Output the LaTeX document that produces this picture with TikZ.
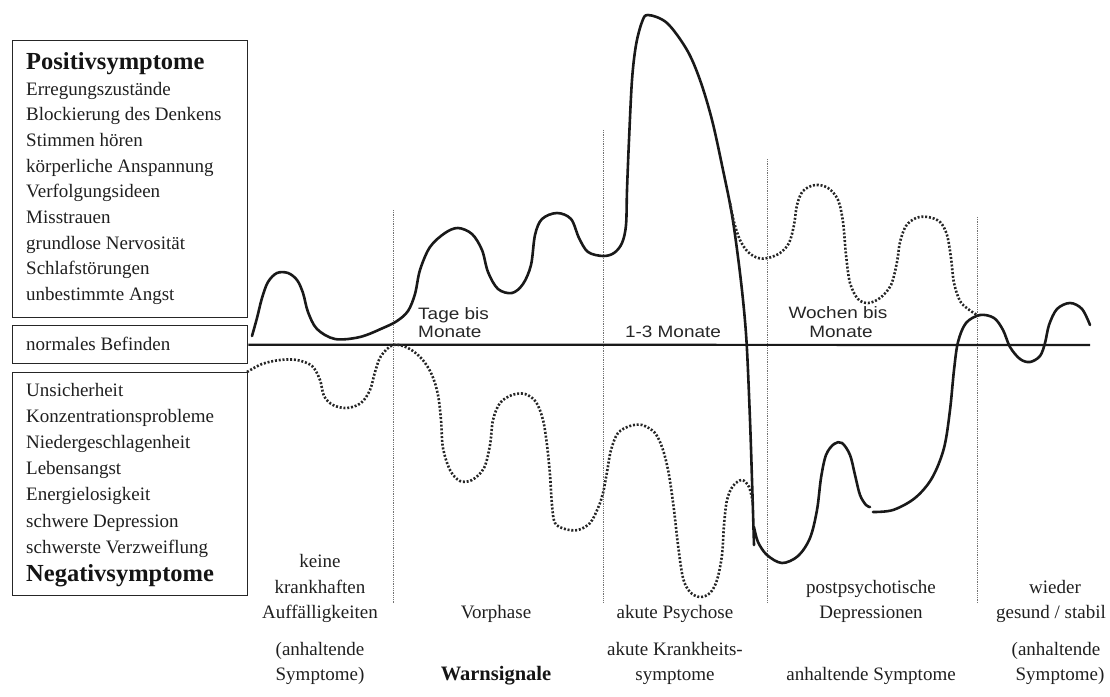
\documentclass[tikz,border=0pt]{standalone}
\usepackage{fontspec}
\setmainfont{Liberation Serif}
\newfontfamily\labsans[FakeStretch=1.15]{Liberation Sans}
\begin{document}
\begin{tikzpicture}[x=1pt,y=-1pt,
  txt/.style={font=\fontsize{19}{25}\selectfont, text=black!88, inner sep=0},
  bigb/.style={font=\fontsize{24.5}{28}\selectfont\bfseries, text=black!92, inner sep=0},
  warn/.style={font=\fontsize{20.5}{24}\selectfont\bfseries, text=black!92, inner sep=0},
  lab/.style={font=\labsans\fontsize{16.5}{19}\selectfont, text=black!85, inner sep=0},
  boxst/.style={draw=black!85, line width=1.3pt, inner sep=0, anchor=north west},
  curve/.style={line width=2.6pt, line join=round, line cap=round, black!90},
  dotc/.style={line width=2.6pt, black!85, dash pattern=on 2pt off 1.8pt},
  vline/.style={line width=0.9pt, draw=black!55, dash pattern=on 1pt off 0.8pt},
  baseln/.style={line width=2.2pt, black!90}]
\useasboundingbox (0,0) rectangle (1110,696);

% boxes
\node[boxst, minimum width=235pt, minimum height=277pt] (posbox) at (12,40) {};
\node[boxst, minimum width=235pt, minimum height=38pt] (normbox) at (12,325) {};
\node[boxst, minimum width=235pt, minimum height=223pt] (negbox) at (12,372) {};

% positive list
\node[bigb, anchor=base west] (ptitle) at (26,69) {Positivsymptome};
\foreach \t [count=\i] in {Erregungszustände, Blockierung des Denkens, Stimmen hören, körperliche Anspannung, Verfolgungsideen, Misstrauen, grundlose Nervosität, Schlafstörungen, unbestimmte Angst}
  \node[txt, anchor=base west] (p\i) at (26,{95+25.7*(\i-1)}) {\t};

\node[txt, anchor=base west] (normal) at (26,350) {normales Befinden};

% negative list
\foreach \t [count=\i] in {Unsicherheit, Konzentrationsprobleme, Niedergeschlagenheit, Lebensangst, Energielosigkeit, schwere Depression, schwerste Verzweiflung}
  \node[txt, anchor=base west] (n\i) at (26,{396+26.2*(\i-1)}) {\t};
\node[bigb, anchor=base west] (ntitle) at (26,581) {Negativsymptome};

% phase separators
\draw[vline] (393,210) -- (393,603);
\draw[vline] (603,130) -- (603,603);
\draw[vline] (767,159) -- (767,603);
\draw[vline] (977,217) -- (977,603);

% base line
\coordinate (lineend) at (1090,345);
\draw[baseln] (normbox.east) -- (lineend);

% solid curves
\draw[curve] plot[smooth, tension=0.55] coordinates {(252,336) (257,318) (262,298) (268,282) (277,273) (288,273) (297,280) (303,293) (308,312) (317,329) (335,339) (360,337) (383,328) (397,321) (408,311) (415,294) (420,270) (430,247) (445,233) (458,228) (472,234) (482,250) (488,272) (498,289) (512,293) (523,284) (531,265) (535,235) (542,219) (557,213) (571,219) (579,238) (588,252) (603,256) (614,253) (622,243) (626,225) (627,190) (629,140) (632,80) (636,45) (642,22) (648,15) (667,23) (687,50) (700,80) (712,120) (723,170) (732,215) (739,265) (744,310) (747,350) (750,420) (752,480) (754,545)};
\draw[curve] plot[smooth, tension=0.55] coordinates {(754,527) (758,542) (767,555) (782,563) (798,556) (810,538) (817,510) (821,478) (826,455) (834,444) (842,443) (850,455) (855,475) (860,495) (866,505) (870,507)};
\draw[curve] plot[smooth, tension=0.55] coordinates {(873,512) (893,510) (915,498) (932,478) (944,448) (950,410) (954,370) (958,342) (966,323) (980,315) (994,318) (1003,330) (1010,347) (1020,359) (1030,362) (1040,356) (1045,343) (1049,325) (1057,309) (1070,303) (1082,309) (1090,325)};

% dotted curves
\draw[dotc] plot[smooth, tension=0.55] coordinates {(247,372) (262,364) (280,360) (297,360) (312,366) (320,380) (324,396) (333,405) (347,408) (361,403) (370,390) (375,372) (381,356) (393,345) (408,348) (422,359) (432,375) (438,395) (441,420) (443,448) (450,470) (460,481) (472,480) (484,468) (490,445) (493,420) (500,403) (512,395) (525,394) (536,402) (543,420) (547,445) (550,475) (552,505) (555,523) (565,529) (578,530) (590,523) (598,508) (603,493) (607,472) (611,450) (618,433) (630,426) (642,425) (655,433) (663,450) (669,475) (674,510) (678,545) (683,578) (690,592) (700,597) (710,593) (717,580) (722,555) (724,525) (727,500) (733,486) (742,480) (749,487) (753,503)};
\draw[dotc] plot[smooth, tension=0.55] coordinates {(730,203) (734,222) (740,240) (748,252) (758,258) (768,258) (780,253) (789,243) (794,225) (797,205) (803,191) (815,185) (828,188) (838,200) (843,222) (846,255) (850,283) (858,299) (868,303) (880,298) (891,285) (897,262) (900,242) (906,226) (916,218) (928,217) (940,222) (947,235) (951,258) (954,283) (960,301) (968,309) (977,315)};

% duration labels
\node[lab, anchor=base west] (tage1) at (418,319) {Tage bis};
\node[lab, anchor=base west] (tage2) at (418,337) {Monate};
\node[lab, anchor=base] (akut) at (673,337) {1-3 Monate};
\node[lab, anchor=base] (woch1) at (838,318) {Wochen bis};
\node[lab, anchor=base] (woch2) at (841,337) {Monate};

% phase labels
\node[txt, anchor=base] (c1a) at (320,567) {keine};
\node[txt, anchor=base] (c1b) at (320,593) {krankhaften};
\node[txt, anchor=base] (c1c) at (320,618) {Auffälligkeiten};
\node[txt, anchor=base] (c1d) at (320,655) {(anhaltende};
\node[txt, anchor=base] (c1e) at (320,680) {Symptome)};

\node[txt, anchor=base] (c2a) at (496,618) {Vorphase};
\node[warn, anchor=base] (c2b) at (496,680) {Warnsignale};

\node[txt, anchor=base] (c3a) at (675,618) {akute Psychose};
\node[txt, anchor=base] (c3b) at (675,655) {akute Krankheits-};
\node[txt, anchor=base] (c3c) at (675,680) {symptome};

\node[txt, anchor=base] (c4a) at (871,593) {postpsychotische};
\node[txt, anchor=base] (c4b) at (871,618) {Depressionen};
\node[txt, anchor=base] (c4c) at (871,680) {anhaltende Symptome};

\node[txt, anchor=base] (c5a) at (1055,593) {wieder};
\node[txt, anchor=base] (c5b) at (1051,618) {gesund / stabil};
\node[txt, anchor=base] (c5c) at (1056,655) {(anhaltende};
\node[txt, anchor=base] (c5d) at (1060,680) {Symptome)};
\end{tikzpicture}
\end{document}
